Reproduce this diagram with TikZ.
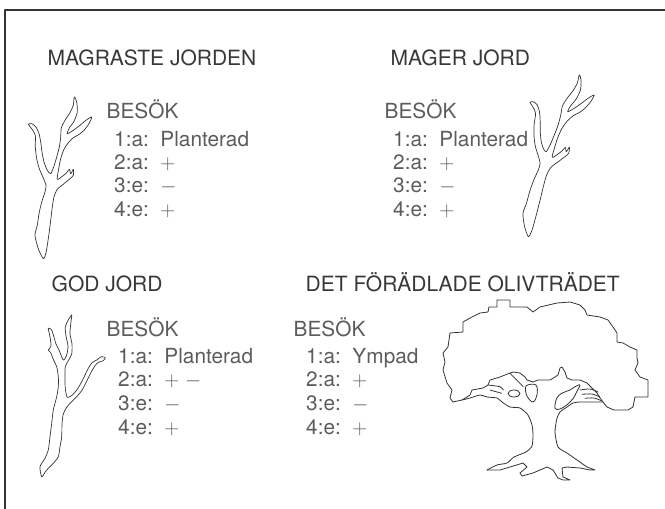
\documentclass[tikz,border=0pt]{standalone}
\usepackage{fontspec}
\setmainfont{TeX Gyre Heros}
\usepackage{tikz}
\definecolor{sqsqsq}{rgb}{0.22,0.22,0.22}
\definecolor{wwwwww}{rgb}{0.36,0.36,0.36}
\definecolor{uququq}{rgb}{0.2,0.2,0.2}
\newcommand{\deadtwig}{%
\draw[twig] plot[smooth cycle,tension=0.45] coordinates {(43.3,258.7) (38.3,248.7) (35,235.3) (37.3,225.3) (39,213.7) (41.7,202) (45,192) (46,185.3) (43.3,178) (39.3,168.7) (36.7,158.7) (35.3,147) (35.3,135.3) (31.7,128.7) (28.3,124.3) (31.7,123.7) (36,127) (39,133.7) (40.7,142) (42,152) (44,162) (47.3,170.3) (50.7,173.7) (54,166) (56.7,157) (59.3,147) (60.7,137) (61.3,128) (65,120.3) (70,112.7) (73.3,105.3) (74.3,97) (76.7,102) (77.3,112) (74,121.3) (69.3,128) (67.3,133.7) (73.3,130.3) (80,125.3) (86,120.3) (91.7,117) (89,123.7) (84,130.3) (79.3,134.3) (73.3,137.7) (68.3,142.7) (64,149.3) (60.7,158.7) (58.7,168.7) (57.3,179.3) (62.7,176) (66.7,172.7) (69.3,169.3) (70.7,173.7) (73.3,169.3) (73.3,175.3) (69.3,179.3) (62.7,184.7) (57.3,189.3) (54,197) (52.3,207) (50.7,220.3) (49,233.7) (47.3,245.3) (46,252.7)};}

\begin{document}
\begin{tikzpicture}[line cap=round,line join=round,x=1pt,y=-1pt,
  head/.style={anchor=base west,inner sep=0pt,text=sqsqsq,font=\fontsize{21}{25}\selectfont},
  txt/.style={anchor=base west,inner sep=0pt,text=wwwwww,font=\fontsize{20.8}{25}\selectfont},
  twig/.style={draw=uququq,line width=0.7pt},
  olive/.style={draw=uququq,line width=0.8pt}]
\clip(0,0) rectangle (665,509);
\draw[line width=1.1pt,color=uququq] (5,520) -- (5,10) -- (680,10);
% magraste jorden
\node[head] (magrHead) at (47.5,65) {MAGRASTE JORDEN};
\node[txt] (magrBes) at (106.5,118) {BESÖK};
\node[txt] (magrA) at (114,146) {1:a:\ \ Planterad};
\node[txt] (magrB) at (114,169) {2:a:\ \ $+$};
\node[txt] (magrC) at (114,192) {3:e:\ \ $-$};
\node[txt] (magrD) at (114,216) {4:e:\ \ $+$};
\deadtwig
% mager jord
\node[head] (magHead) at (390.5,65) {MAGER JORD};
\node[txt] (magBes) at (384.5,118) {BESÖK};
\node[txt] (magA) at (393,146) {1:a:\ \ Planterad};
\node[txt] (magB) at (393,169) {2:a:\ \ $+$};
\node[txt] (magC) at (393,192) {3:e:\ \ $-$};
\node[txt] (magD) at (393,216) {4:e:\ \ $+$};
\begin{scope}[shift={(516.9,-22)},xslant=0.123]
\deadtwig
\end{scope}
% god jord
\node[head] (godHead) at (51.5,291) {GOD JORD};
\node[txt] (godBes) at (106.5,336) {BESÖK};
\node[txt] (godA) at (118,363) {1:a:\ \ Planterad};
\node[txt] (godB) at (118,386) {2:a:\ \ $+\ -$};
\node[txt] (godC) at (118,410) {3:e:\ \ $-$};
\node[txt] (godD) at (118,434) {4:e:\ \ $+$};
\draw[twig] plot[smooth cycle,tension=0.45] coordinates {(41.7,476.7) (40,466.7) (45,458.3) (48.3,450) (50,436.7) (51.7,423.3) (53.3,410) (56.7,396.7) (58.3,386.7) (58.3,376.7) (56.7,366.7) (53.3,359.3) (50.7,352.7) (48.3,350) (51,346) (50,336.7) (48.3,328.3) (51.7,330) (54,337.3) (56,344) (59.3,350.7) (63.3,360) (66.7,355) (68,346) (66,336) (65.3,326.7) (68.3,320) (71.7,315) (70.7,324) (70,334) (72,344) (71.7,354) (68.3,360.7) (65.3,366.7) (65,378.3) (65.3,388.3) (67.3,397.3) (72.7,394.7) (77.7,388.7) (81.7,381.7) (85,375) (88.3,368.3) (92,362.7) (96.7,360) (101.3,356.7) (105.3,357.7) (103.3,360.7) (98.3,362.3) (95,365.7) (92,370.7) (88.7,377.3) (85.3,384) (81.7,390.7) (76.7,396.7) (71.3,402) (66.7,407.3) (63.3,414) (62,424) (61.7,436.7) (60,446.7) (58.3,456.7) (53.3,463.3) (48.3,468.3) (45,472.3)};
% det foradlade olivtradet
\node[head] (oliHead) at (305.5,291) {DET FÖRÄDLADE OLIVTRÄDET};
\node[txt] (oliBes) at (293.5,336) {BESÖK};
\node[txt] (oliA) at (306,363) {1:a:\ \ Ympad};
\node[txt] (oliB) at (306,386) {2:a:\ \ $+$};
\node[txt] (oliC) at (306,410) {3:e:\ \ $-$};
\node[txt] (oliD) at (306,434) {4:e:\ \ $+$};
\draw[olive] (453,402) -- (450,398) -- (452,390) -- (447,383) -- (443,370) -- (445,362) -- (443,353) -- (448,347) -- (450,333) -- (463,332) -- (463,322) -- (472,317) -- (480,313) -- (488,312) -- (489,307) -- (497,307) -- (497,300) -- (510,300) -- (510,307) -- (527,307) -- (533,312) -- (540,307) -- (557,303) -- (570,302) -- (580,305) -- (585,310) -- (587,315) -- (600,317) -- (608,320) -- (613,327) -- (617,333) -- (617,342) -- (623,343) -- (630,347) -- (637,350) -- (637,358) -- (638,363) -- (635,370) -- (640,377) -- (648,380) -- (648,397) -- (635,397) -- (633,407) -- (628,410) -- (614,410) -- (607,407) -- (603,402) -- (600,398) -- (597,393) -- (592,388) -- (587,383) -- (580,380) -- (572,380) -- (567,378) -- (565,372) -- (562,367) -- (560,368) -- (558,375) -- (555,377) -- (550,380) -- (538,380) -- (533,382) -- (527,380) -- (525,377) -- (520,373) -- (513,372) -- (510,373) -- (500,377) -- (490,380) -- (488,385) -- (483,388) -- (472,390) -- (470,395) -- (462,400) -- cycle;
\draw[olive] plot[smooth,tension=0.4] coordinates {(462,400) (470,398) (480,395) (487,397) (497,398) (502,402) (510,407) (520,408) (528,415) (532,425) (533,435) (532,446) (526,452) (514,457) (507,463) (497,465) (487,470)};
\draw[olive] (487,470) -- (500,470) -- (510,467) -- (523,463) -- (527,467) -- (520,473) -- (522,476) -- (533,473) -- (547,467) -- (553,470) -- (558,478) -- (563,480) -- (570,480) -- (563,477) -- (562,468) -- (567,467) -- (580,468) -- (590,470) -- (595,470) -- (587,467);
\draw[olive] plot[smooth,tension=0.4] coordinates {(587,467) (577,460) (567,453) (558,447) (555,432) (557,418) (560,412) (567,407) (573,403) (580,402) (587,402) (596,402) (603,402)};
\draw[olive] plot[smooth,tension=0.5] coordinates {(488,385) (500,386.7) (503.3,390)};
\draw[olive] plot[smooth,tension=0.5] coordinates {(490,390) (501.7,393.3)};
\draw[olive] plot[smooth,tension=0.5] coordinates {(510,373.3) (518.3,381.7) (523.3,386.7)};
\draw[olive] (514,393.5) ellipse (6 and 3.5);
\draw[olive] plot[smooth cycle,tension=0.6] coordinates {(526,386) (536,385) (537,395) (533,402) (527,396)};
\draw[olive] plot[smooth cycle,tension=0.6] coordinates {(555,408.3) (556.7,398.3) (561.7,393.3) (570,390) (575,386.7) (580,385) (576.7,391.7) (573.3,398.3) (566.7,405) (560,409)};
\draw[olive] plot[smooth,tension=0.5] coordinates {(580,390) (590,389) (598,392)};
\draw[olive] plot[smooth,tension=0.5] coordinates {(582,394.3) (592,394) (600,397)};
\draw[olive] plot[smooth,tension=0.5] coordinates {(585,398.3) (594,398) (602,401)};
\end{tikzpicture}
\end{document}
